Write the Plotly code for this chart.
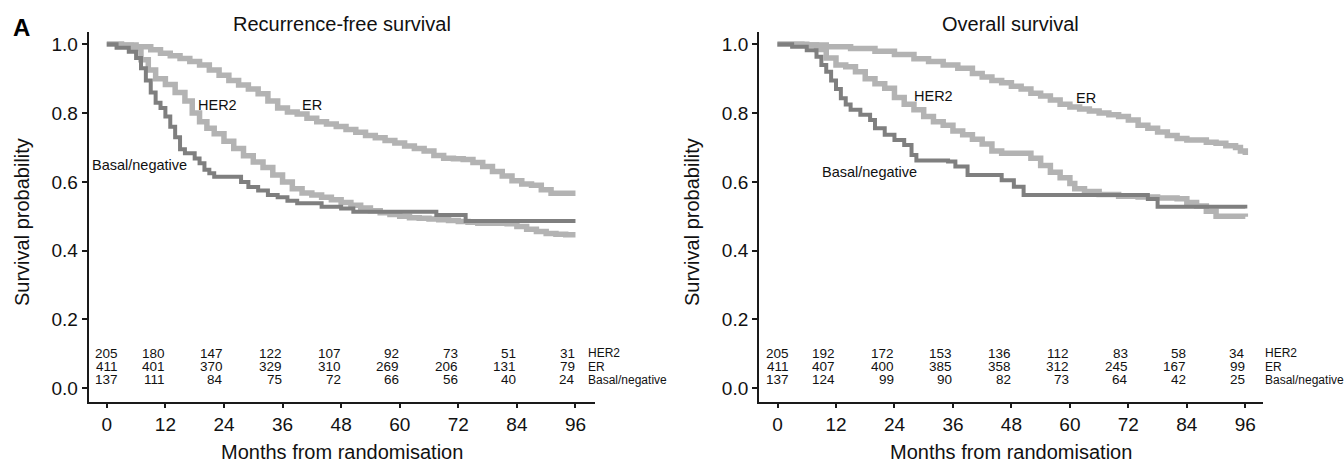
import plotly.graph_objects as go

# ---------------- data ----------------
month_ticks = [0, 12, 24, 36, 48, 60, 72, 84, 96]

# Recurrence-free survival (Kaplan-Meier)
rfs_er_t = [0, 3, 6, 9, 11, 13, 15, 17, 19, 21, 23, 25, 27, 29, 31, 33, 35, 37, 39, 41, 43, 45, 47, 49,
            51, 53, 55, 57, 59, 61, 63, 65, 67, 69, 71, 73, 75, 77, 79, 81, 83, 85, 87, 89, 91, 96]
rfs_er_s = [1.0, 0.998, 0.993, 0.984, 0.974, 0.967, 0.959, 0.95, 0.94, 0.925, 0.91, 0.895, 0.882, 0.87,
            0.856, 0.835, 0.815, 0.803, 0.797, 0.785, 0.775, 0.768, 0.761, 0.752, 0.744, 0.735, 0.728,
            0.72, 0.713, 0.704, 0.697, 0.69, 0.677, 0.669, 0.667, 0.665, 0.656, 0.645, 0.63, 0.617,
            0.603, 0.594, 0.59, 0.577, 0.567, 0.567]

rfs_her2_t = [0, 3, 5, 7, 8.5, 10, 12, 14, 16, 17.5, 19, 20.5, 22, 24, 26, 28, 30, 32, 34, 36, 38, 40, 42,
              44, 46, 48, 50, 52, 54, 56, 58, 60, 62, 64, 66, 68, 70, 72, 74, 76, 78, 80, 82, 84, 86, 88,
              90, 92, 94, 96]
rfs_her2_s = [1.0, 0.997, 0.988, 0.955, 0.925, 0.9, 0.883, 0.86, 0.835, 0.8, 0.775, 0.756, 0.74, 0.718,
              0.697, 0.676, 0.658, 0.642, 0.62, 0.6, 0.58, 0.568, 0.562, 0.555, 0.548, 0.54, 0.532, 0.524,
              0.516, 0.51, 0.505, 0.5, 0.496, 0.494, 0.492, 0.49, 0.488, 0.485, 0.483, 0.48, 0.48, 0.48,
              0.478, 0.47, 0.462, 0.456, 0.45, 0.448, 0.446, 0.446]

rfs_basal_t = [0, 2, 4.5, 6, 7, 8, 9, 10, 11, 12, 13, 14, 15, 16, 18, 19, 20, 21, 22, 26, 27.5, 29, 31,
               33, 35, 37, 39, 44, 48, 50.5, 67.5, 73.5, 96]
rfs_basal_s = [1.0, 0.99, 0.978, 0.96, 0.93, 0.895, 0.86, 0.83, 0.815, 0.79, 0.76, 0.73, 0.695, 0.683,
               0.668, 0.654, 0.635, 0.625, 0.615, 0.615, 0.6, 0.585, 0.575, 0.562, 0.555, 0.545, 0.538,
               0.528, 0.523, 0.513, 0.504, 0.486, 0.486]

# Overall survival
os_er_t = [0, 5, 10, 15, 20, 24, 28, 31, 34, 37, 40, 42, 44, 46, 48, 50, 52, 54, 56, 58, 60, 62, 64, 66,
           68, 70, 72, 74, 76, 78, 80, 82, 84, 86, 88, 90, 92, 94, 95, 96]
os_er_s = [1.0, 0.998, 0.993, 0.988, 0.98, 0.97, 0.958, 0.95, 0.94, 0.93, 0.915, 0.905, 0.895, 0.888,
           0.878, 0.87, 0.858, 0.85, 0.838, 0.826, 0.818, 0.812, 0.806, 0.8, 0.795, 0.79, 0.78, 0.765,
           0.756, 0.745, 0.735, 0.726, 0.722, 0.722, 0.715, 0.712, 0.705, 0.7, 0.69, 0.678]

os_her2_t = [0, 6, 8, 10, 12, 14, 16, 18, 20, 22, 24, 26, 28, 30, 32, 34, 36, 38, 40, 42, 44, 46, 50,
             52, 54, 56, 58, 60, 61, 63, 66, 70, 74, 78, 82, 84, 86, 88, 90, 96]
os_her2_s = [1.0, 0.998, 0.985, 0.96, 0.94, 0.935, 0.92, 0.9, 0.885, 0.872, 0.845, 0.826, 0.81, 0.79,
             0.775, 0.765, 0.748, 0.737, 0.724, 0.71, 0.69, 0.683, 0.683, 0.669, 0.648, 0.628, 0.612,
             0.595, 0.58, 0.572, 0.563, 0.558, 0.556, 0.553, 0.551, 0.54, 0.53, 0.515, 0.5, 0.499]

os_basal_t = [0, 3, 6, 8, 9, 10, 11, 12, 13, 14, 15, 17, 19, 20, 22, 24, 26, 27.5, 28.5, 35, 36.5, 39,
              44.5, 46, 48.5, 50.5, 74, 76, 78, 96]
os_basal_s = [1.0, 0.993, 0.983, 0.964, 0.94, 0.92, 0.895, 0.87, 0.843, 0.825, 0.81, 0.795, 0.78, 0.756,
              0.737, 0.722, 0.707, 0.678, 0.662, 0.659, 0.645, 0.62, 0.62, 0.605, 0.586, 0.562, 0.562,
              0.55, 0.528, 0.523]

# numbers at risk
risk_groups = ["HER2", "ER", "Basal/negative"]
risk_rfs_her2 = [205, 180, 147, 122, 107, 92, 73, 51, 31]
risk_rfs_er = [411, 401, 370, 329, 310, 269, 206, 131, 79]
risk_rfs_basal = [137, 111, 84, 75, 72, 66, 56, 40, 24]
risk_os_her2 = [205, 192, 172, 153, 136, 112, 83, 58, 34]
risk_os_er = [411, 407, 400, 385, 358, 312, 245, 167, 99]
risk_os_basal = [137, 124, 99, 90, 82, 73, 64, 42, 25]

panel_titles = ["Recurrence-free survival", "Overall survival"]

# ---------------- figure ----------------
W, H = 1344, 465
LIGHT = "#b3b3b3"
DARK = "#7f7f7f"
FONT = "Liberation Sans, Arial, Helvetica, sans-serif"

fig = go.Figure()


def add_curve(t, s, color, width, xa, ya):
    fig.add_trace(go.Scatter(x=t, y=s, mode="lines", line=dict(color=color, width=width, shape="hv"),
                             xaxis=xa, yaxis=ya, showlegend=False, hoverinfo="skip"))


add_curve(rfs_er_t, rfs_er_s, LIGHT, 5.5, "x", "y")
add_curve(rfs_her2_t, rfs_her2_s, LIGHT, 5.5, "x", "y")
add_curve(rfs_basal_t, rfs_basal_s, DARK, 4, "x", "y")
add_curve(os_er_t, os_er_s, LIGHT, 5.5, "x2", "y2")
add_curve(os_her2_t, os_her2_s, LIGHT, 5.5, "x2", "y2")
add_curve(os_basal_t, os_basal_s, DARK, 4, "x2", "y2")

ydom = [1 - 401.7 / H, 1 - 31.7 / H]
xdom1 = [88.5 / W, 595.0 / W]
xdom2 = [758.8 / W, 1263.2 / W]

axis_common = dict(showline=True, linecolor="#1a1a1a", linewidth=1.5, ticks="outside", ticklen=5,
                   tickwidth=1.5, tickcolor="#1a1a1a", showgrid=False, zeroline=False,
                   tickfont=dict(family=FONT, size=19, color="#111"), fixedrange=True)

fig.update_layout(
    width=W, height=H, margin=dict(l=0, r=0, t=0, b=0),
    paper_bgcolor="white", plot_bgcolor="white", showlegend=False,
    xaxis=dict(domain=xdom1, range=[-3.75, 100.0], tickvals=month_ticks, anchor="y", **axis_common),
    yaxis=dict(domain=ydom, range=[-0.039, 1.0366], tickvals=[0, 0.2, 0.4, 0.6, 0.8, 1.0],
               tickformat=".1f", anchor="x", **axis_common),
    xaxis2=dict(domain=xdom2, range=[-3.84, 99.67], tickvals=month_ticks, anchor="y2", **axis_common),
    yaxis2=dict(domain=ydom, range=[-0.039, 1.0366], tickvals=[0, 0.2, 0.4, 0.6, 0.8, 1.0],
                tickformat=".1f", anchor="x2", **axis_common),
)

ann = []
txt = dict(family=FONT, color="#111")


def note(text, x, y, xref="paper", yref="paper", size=14, xanchor="center", yanchor="middle", **kw):
    ann.append(dict(text=text, x=x, y=y, xref=xref, yref=yref, showarrow=False, xanchor=xanchor,
                    yanchor=yanchor, font=dict(size=size, **txt), **kw))


# panel letter
ann.append(dict(text="<b>A</b>", x=21.7 / W, y=1 - 27 / H, xref="paper", yref="paper",
                xanchor="center", yanchor="middle", showarrow=False,
                font=dict(family=FONT, size=24, color="#000")))

for i, (xd, title) in enumerate(zip([xdom1, xdom2], panel_titles)):
    xc = (xd[0] + xd[1]) / 2
    note(title, xc, 1 - 23.5 / H, size=20)
    note("Months from randomisation", xc, 0.0, size=20, yanchor="bottom")
    ytx = [22.0, 692.0][i]
    note("Survival probability", ytx / W, 1 - 222 / H, size=20, textangle=-90)

# curve labels
curve_labels = [("HER2", 22.7, 0.824, "x", "y"), ("ER", 42.0, 0.824, "x", "y"),
                ("Basal/negative", 6.7, 0.649, "x", "y"),
                ("HER2", 32.0, 0.850, "x2", "y2"), ("ER", 63.4, 0.843, "x2", "y2"),
                ("Basal/negative", 18.8, 0.630, "x2", "y2")]
for text, x, y, xr, yr in curve_labels:
    note(text, x, y, xr, yr, size=14.5)

# numbers at risk
row_py = [353.3, 366.7, 380.0]
row_y = [(388.3 - p) / 344 for p in row_py]
for xr, yr, rows, lab_px in [("x", "y", [risk_rfs_her2, risk_rfs_er, risk_rfs_basal], 585.7),
                             ("x2", "y2", [risk_os_her2, risk_os_er, risk_os_basal], 1263.0)]:
    for ry, rpy, row, grp in zip(row_y, row_py, rows, risk_groups):
        for m, n in zip(month_ticks, row):
            note(str(n), m if m == 0 else m + 0.3, ry, xr, yr, size=13.5,
                 xanchor="center" if m == 0 else "right")
        note(grp, lab_px / W, 1 - rpy / H, size=12, xanchor="left")

fig.update_layout(annotations=ann)
fig.write_html("out.html")
